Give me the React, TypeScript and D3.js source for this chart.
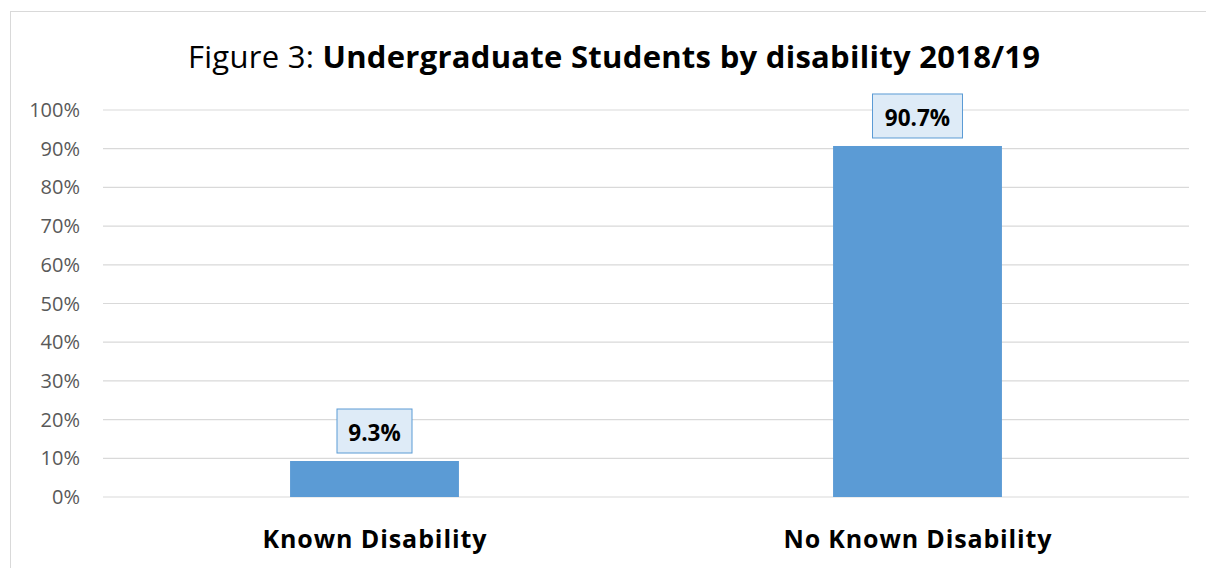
import React from "react";
import * as d3 from "d3";

const categories = ["Known Disability", "No Known Disability"];
const values = [9.3, 90.7];
const ticks = [0, 10, 20, 30, 40, 50, 60, 70, 80, 90, 100];
const titlePrefix = "Figure 3: ";
const titleBold = "Undergraduate Students by disability 2018/19";

const W = 1206;
const H = 568;
const FONT = "Open Sans, Lato, sans-serif";

export default function App() {
  const left = 103;
  const right = 1189;
  const top = 110;
  const bottom = 497;
  const x = d3.scaleBand<string>().domain(categories).range([left, right]).paddingInner(0.689).paddingOuter(0.3445);
  const y = d3.scaleLinear().domain([0, 100]).range([bottom, top]);

  return (
    <svg width={W} height={H} style={{ position: "absolute", left: 0, top: 0 }}>
      <rect x={0} y={0} width={W} height={H} fill="#fff" />
      <rect x={10.5} y={11.5} width={W + 10} height={H + 10} fill="none" stroke="#d9d9d9" strokeWidth={1} />
      <text x={614} y={68} textAnchor="middle" fontFamily={FONT} fontSize={31} fill="#000" textLength={852} lengthAdjust="spacing">
        <tspan>{titlePrefix}</tspan>
        <tspan fontWeight="bold">{titleBold}</tspan>
      </text>
      {ticks.map((t) => (
        <g key={t}>
          <line x1={left} x2={right} y1={y(t)} y2={y(t)} stroke="#d9d9d9" strokeWidth={1.2} />
          <text x={80} y={y(t) + 7} textAnchor="end" fontFamily={FONT} fontSize={20} fill="#595959">
            {t + "%"}
          </text>
        </g>
      ))}
      {categories.map((c, i) => {
        const bx = x(c)!;
        const bw = x.bandwidth();
        const by = y(values[i]);
        const cx = bx + bw / 2;
        const label = values[i].toFixed(1) + "%";
        const boxW = i === 0 ? 75 : 90;
        return (
          <g key={c}>
            <rect x={bx} y={by} width={bw} height={bottom - by} fill="#5b9bd5" />
            <rect x={cx - boxW / 2} y={by - 52} width={boxW} height={44} fill="#deebf7" stroke="#5b9bd5" strokeWidth={1} />
            <text x={cx} y={by - 20} textAnchor="middle" fontFamily={FONT} fontSize={22.5} fontWeight="bold" fill="#000">
              {label}
            </text>
            <text x={cx} y={548} textAnchor="middle" fontFamily={FONT} fontSize={25} fontWeight="bold" fill="#000"
              textLength={i === 0 ? 224 : 268} lengthAdjust="spacing">
              {c}
            </text>
          </g>
        );
      })}
    </svg>
  );
}
